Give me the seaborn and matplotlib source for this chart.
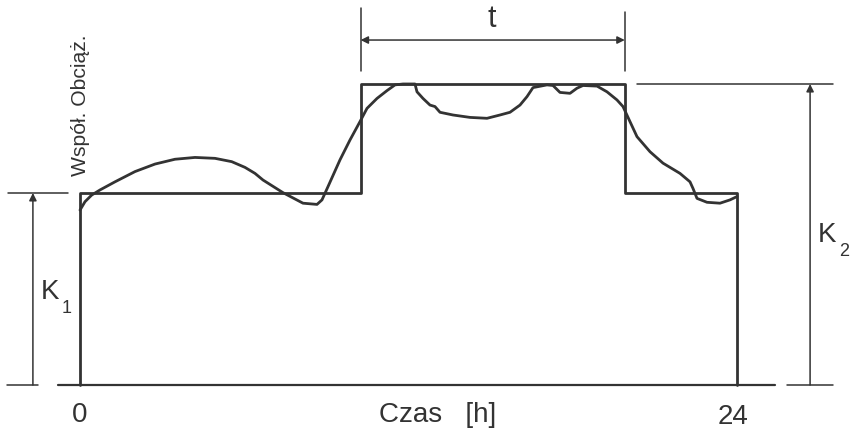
import numpy as np
import pandas as pd
import seaborn as sns
import matplotlib.pyplot as plt

sns.set_theme(style="white")
plt.rcParams['font.family'] = ['Liberation Sans', 'DejaVu Sans']

# step (two-tariff) levels, relative to K2 = 1
K1 = 0.638
K2 = 1.0
step_edges = [0, 10.25, 19.9, 24]
step_levels = [K1, K2, K1]

hours = [0.000, 0.183, 0.427, 0.731, 1.279, 2.009, 2.740, 3.470, 4.201, 4.932,
         5.542, 6.027, 6.393, 6.685, 7.416, 8.146, 8.658, 8.840, 9.059, 9.498,
         9.863, 10.228, 10.484, 10.849, 11.215, 11.507, 11.799, 12.237, 12.311,
         12.530, 12.785, 12.968, 13.151, 13.626, 14.247, 14.868, 15.342, 15.708,
         16.073, 16.329, 16.548, 17.059, 17.279, 17.534, 17.900, 18.155, 18.374,
         18.886, 19.251, 19.616, 19.836, 20.091, 20.347, 20.822, 21.297, 21.918,
         22.283, 22.393, 22.539, 22.904, 23.379, 23.744, 24.000]
load = [0.581, 0.609, 0.631, 0.648, 0.675, 0.709, 0.734, 0.750, 0.756, 0.753,
        0.742, 0.723, 0.703, 0.681, 0.639, 0.604, 0.600, 0.615, 0.659, 0.748,
        0.814, 0.875, 0.919, 0.952, 0.978, 0.997, 1.000, 1.000, 0.974,
        0.952, 0.930, 0.925, 0.906, 0.897, 0.889, 0.886, 0.897, 0.906,
        0.930, 0.958, 0.988, 0.997, 0.995, 0.972, 0.969, 0.986, 0.995,
        0.993, 0.974, 0.947, 0.925, 0.875, 0.825, 0.775, 0.737, 0.703,
        0.675, 0.653, 0.620, 0.607, 0.604, 0.615, 0.626]

x_labels = ["0", "24"]
x_title = "Czas   [h]"
y_title = "Współ. Obciąż."

ink = "#333333"

# outline of the step profile
sx = [step_edges[0]]
sy = [0.0]
for i, lev in enumerate(step_levels):
    sx += [step_edges[i], step_edges[i + 1]]
    sy += [lev, lev]
sx.append(step_edges[-1])
sy.append(0.0)
step_df = pd.DataFrame({"h": sx, "v": sy})
curve_df = pd.DataFrame({"h": hours, "v": load})

fig = plt.figure(figsize=(8.54, 4.38), dpi=100)
ax = fig.add_axes([0, 0, 1, 1])

sns.lineplot(data=step_df, x="h", y="v", sort=False, estimator=None,
             color=ink, lw=2.0, ax=ax)
sns.lineplot(data=curve_df, x="h", y="v", sort=False, estimator=None,
             color=ink, lw=2.0, ax=ax)

# baseline
ax.plot([-0.8, 25.39], [0, 0], color=ink, lw=1.6)

dim = dict(color=ink, lw=1.1)
arr = dict(arrowstyle="-|>", color=ink, lw=1.1, mutation_scale=11,
           shrinkA=0, shrinkB=0)

# K1 dimension
ax.plot([-2.63, -0.44], [K1, K1], **dim)
ax.plot([-2.67, -1.53], [0, 0], **dim)
ax.annotate("", xy=(-1.72, K1), xytext=(-1.72, 0), arrowprops=arr)
ax.text(-1.45, 0.31, "K", fontsize=20, color=ink, ha="left", va="center")
ax.text(-0.68, 0.255, "1", fontsize=13, color=ink, ha="left", va="center")

# K2 dimension
ax.plot([20.35, 27.51], [K2, K2], **dim)
ax.plot([25.83, 27.51], [0, 0], **dim)
ax.annotate("", xy=(26.67, K2), xytext=(26.67, 0), arrowprops=arr)
ax.text(26.95, 0.50, "K", fontsize=20, color=ink, ha="left", va="center")
ax.text(27.72, 0.445, "2", fontsize=13, color=ink, ha="left", va="center")

# t dimension
ax.plot([step_edges[1], step_edges[1]], [1.043, 1.252], **dim)
ax.plot([step_edges[2], step_edges[2]], [1.043, 1.239], **dim)
arr2 = dict(arr, arrowstyle="<|-|>")
ax.annotate("", xy=(step_edges[2], 1.146), xytext=(step_edges[1], 1.146),
            arrowprops=arr2)
ax.text(15.05, 1.215, "t", fontsize=22, color=ink, ha="center", va="center")

# axis texts
ax.text(0, -0.10, x_labels[0], fontsize=20, color=ink, ha="center", va="center")
ax.text(23.85, -0.105, x_labels[1], fontsize=20, color=ink, ha="center", va="center")
ax.text(13.06, -0.10, x_title, fontsize=20, color=ink, ha="center", va="center")
ax.text(0.02, 0.93, y_title, fontsize=15.2, color=ink, rotation=90,
        ha="center", va="center")

ax.set_xlim(-2.922, 28.274)
ax.set_ylim(-0.176, 1.279)
ax.axis("off")

fig.savefig("out.png", dpi=100, facecolor="white")
